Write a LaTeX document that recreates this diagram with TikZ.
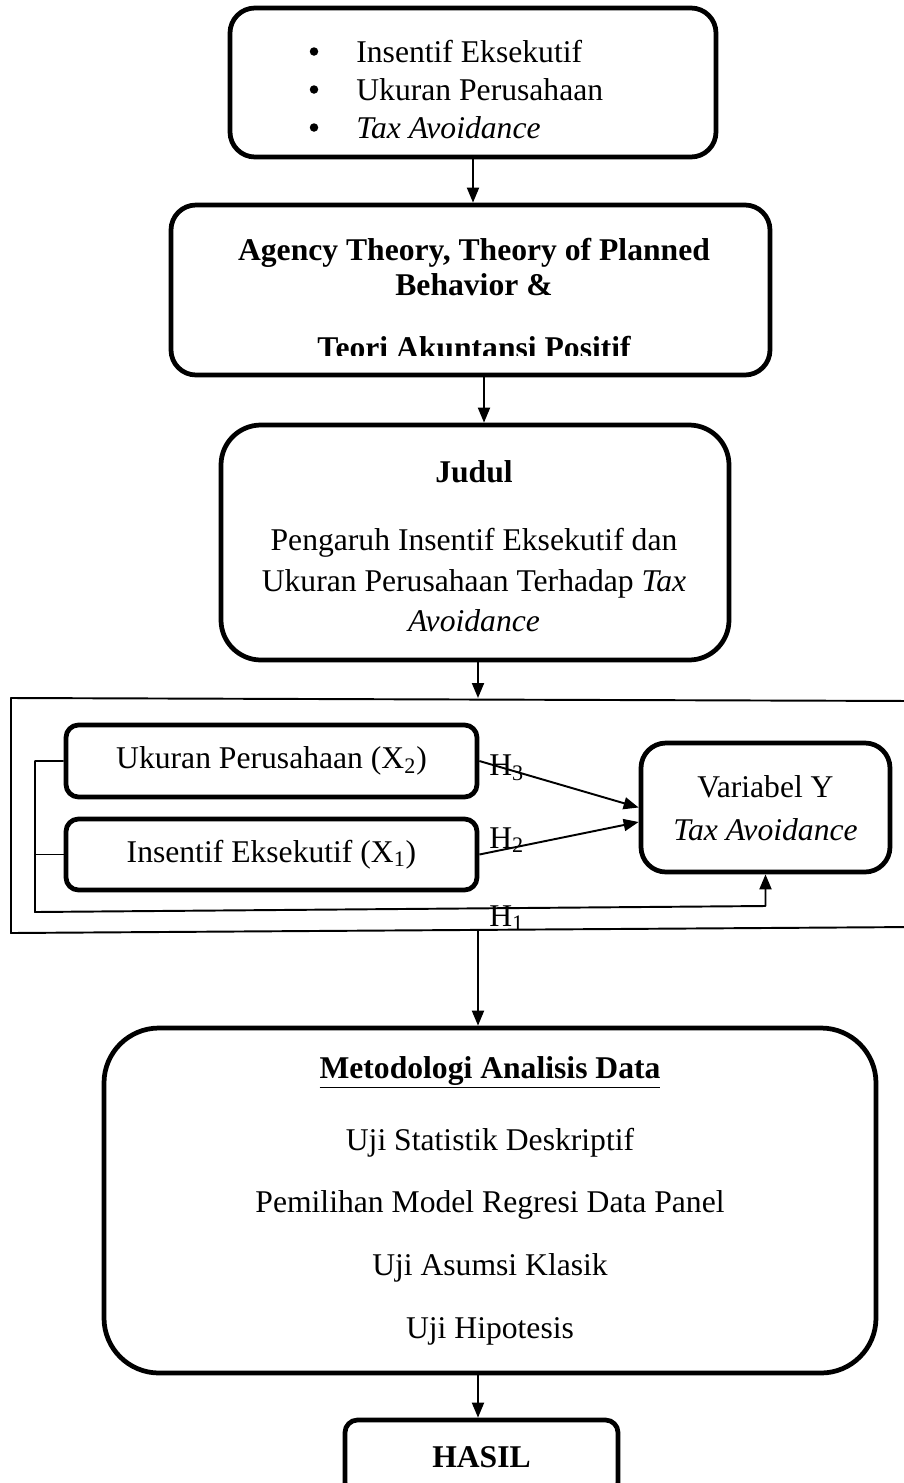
\documentclass[tikz,border=0pt]{standalone}
\usepackage{fontspec}
\setmainfont{Liberation Serif}
\usepackage{tikz}
\usetikzlibrary{
	arrows.meta,
	positioning
}

\tikzset{
	rbox/.style={draw, line width=2.7pt, rounded corners=#1, inner sep=0pt},
	rbox/.default=0.5cm,
	arr/.style={line width=1.1pt, -{Triangle[length=0.3cm,width=0.24cm]}},
	link/.style={line width=1.1pt},
	hlabel/.style={anchor=west, inner sep=0pt}
}

\begin{document}
\fontsize{18}{21.5}\selectfont
\begin{tikzpicture}[line join=round]
		
		\useasboundingbox (0,0) rectangle (18.08,-29.66);
		
		% Variabel penelitian
		\node[rbox=0.5cm, minimum width=9.72cm, minimum height=2.98cm] (var) at (9.46,-1.65) {};
		\foreach \txt [count=\i] in {Insentif Eksekutif, Ukuran Perusahaan, \textit{Tax Avoidance}} {
			\node[circle, fill, inner sep=0pt, minimum size=0.17cm] (dot\i) at (6.28,-0.27-0.76*\i) {};
			\node[anchor=base west, inner sep=0pt] (var\i) at (7.12,-0.48-0.76*\i) {\txt};
		}
		
		% Landasan teori
		\node[rbox=0.5cm, minimum width=11.98cm, minimum height=3.4cm] (teori) at (9.41,-5.8) {};
		\node[anchor=base, font=\bfseries] (teori1) at (9.48,-5.2) {Agency Theory, Theory of Planned};
		\node[anchor=base, font=\bfseries] (teori2) at (9.48,-5.9) {Behavior \&};
		\begin{scope}
			\clip (3.6,-6.4) rectangle (15.2,-7.1);
			\node[anchor=base, font=\bfseries] (teori3) at (9.48,-7.16) {Teori Akuntansi Positif};
		\end{scope}
		
		\draw[arr] (var.south) -- (var.south |- teori.north);
		
		% Judul
		\node[rbox=0.8cm, minimum width=10.16cm, minimum height=4.7cm] (judul) at (9.5,-10.85) {};
		\node[anchor=base, font=\bfseries] (judul0) at (9.48,-9.64) {Judul};
		\node[anchor=base] (judul1) at (9.48,-11.0) {Pengaruh Insentif Eksekutif dan};
		\node[anchor=base] (judul2) at (9.48,-11.82) {Ukuran Perusahaan Terhadap \textit{Tax}};
		\node[anchor=base] (judul3) at (9.48,-12.62) {\textit{Avoidance}};
		
		\draw[arr] ([xshift=0.27cm]teori.south) -- ([xshift=0.27cm]teori.south |- judul.north);
		
		% Kerangka model
		\coordinate (ftl) at (0.22,-13.96);
		\coordinate (ftr) at (18.3,-14.02);
		\coordinate (fbl) at (0.22,-18.66);
		\coordinate (fbr) at (18.3,-18.54);
		\draw[link] (ftr) -- (ftl) -- (fbl) -- (fbr);
		
		\draw[arr] ([xshift=0.06cm]judul.south) -- ([xshift=0.06cm]judul.south |- ftl);
		
		\node[rbox=0.25cm, minimum width=8.22cm, minimum height=1.44cm] (x2) at (5.43,-15.22) {Ukuran Perusahaan (X\textsubscript{2})};
		\node[rbox=0.25cm, minimum width=8.22cm, minimum height=1.42cm] (x1) at (5.43,-17.09) {Insentif Eksekutif (X\textsubscript{1})};
		\node[rbox=0.5cm, minimum width=4.98cm, minimum height=2.58cm] (y) at (15.31,-16.15) {};
		\node[anchor=base] (y1) at (15.31,-15.94) {Variabel Y};
		\node[anchor=base] (y2) at (15.31,-16.8) {\textit{Tax Avoidance}};
		
		% Hipotesis
		\coordinate (hl) at (0.7,-18.24);
		\coordinate (hr) at (15.31,-18.12);
		\draw[arr] (x2.west) -- (x2.west -| hl) -- (hl) -- (hr) -- (y.south);
		\draw[link] (x1.west) -- (x1.west -| hl);
		\draw[arr] (x2.east) -- (y.west);
		\draw[arr] (x1.east) -- ([yshift=-0.29cm]y.west);
		
		\node[hlabel] (h3) at (9.78,-15.36) {H\textsubscript{3}};
		\node[hlabel] (h2) at (9.78,-16.8) {H\textsubscript{2}};
		\node[hlabel] (h1) at (9.78,-18.36) {H\textsubscript{1}};
		
		% Metodologi
		\coordinate (fout) at (9.56,-18.6);
		\node[rbox=1.1cm, minimum width=15.44cm, minimum height=6.9cm] (metode) at (9.8,-24.01) {};
		\node[anchor=base, font=\bfseries] (m0) at (9.8,-21.56) {\underline{Metodologi Analisis Data}};
		\node[anchor=base] (m1) at (9.8,-23.0) {Uji Statistik Deskriptif};
		\node[anchor=base] (m2) at (9.8,-24.24) {Pemilihan Model Regresi Data Panel};
		\node[anchor=base] (m3) at (9.8,-25.5) {Uji Asumsi Klasik};
		\node[anchor=base] (m4) at (9.8,-26.76) {Uji Hipotesis};
		
		\draw[arr] (fout) -- (fout |- metode.north);
		
		% Hasil
		\node[rbox=0.25cm, minimum width=5.46cm, minimum height=1.5cm, font=\bfseries] (hasil) at (9.63,-29.15) {HASIL};
		
		\draw[arr] ([xshift=-0.24cm]metode.south) -- ([xshift=-0.24cm]metode.south |- hasil.north);
		
	\end{tikzpicture}
\end{document}
